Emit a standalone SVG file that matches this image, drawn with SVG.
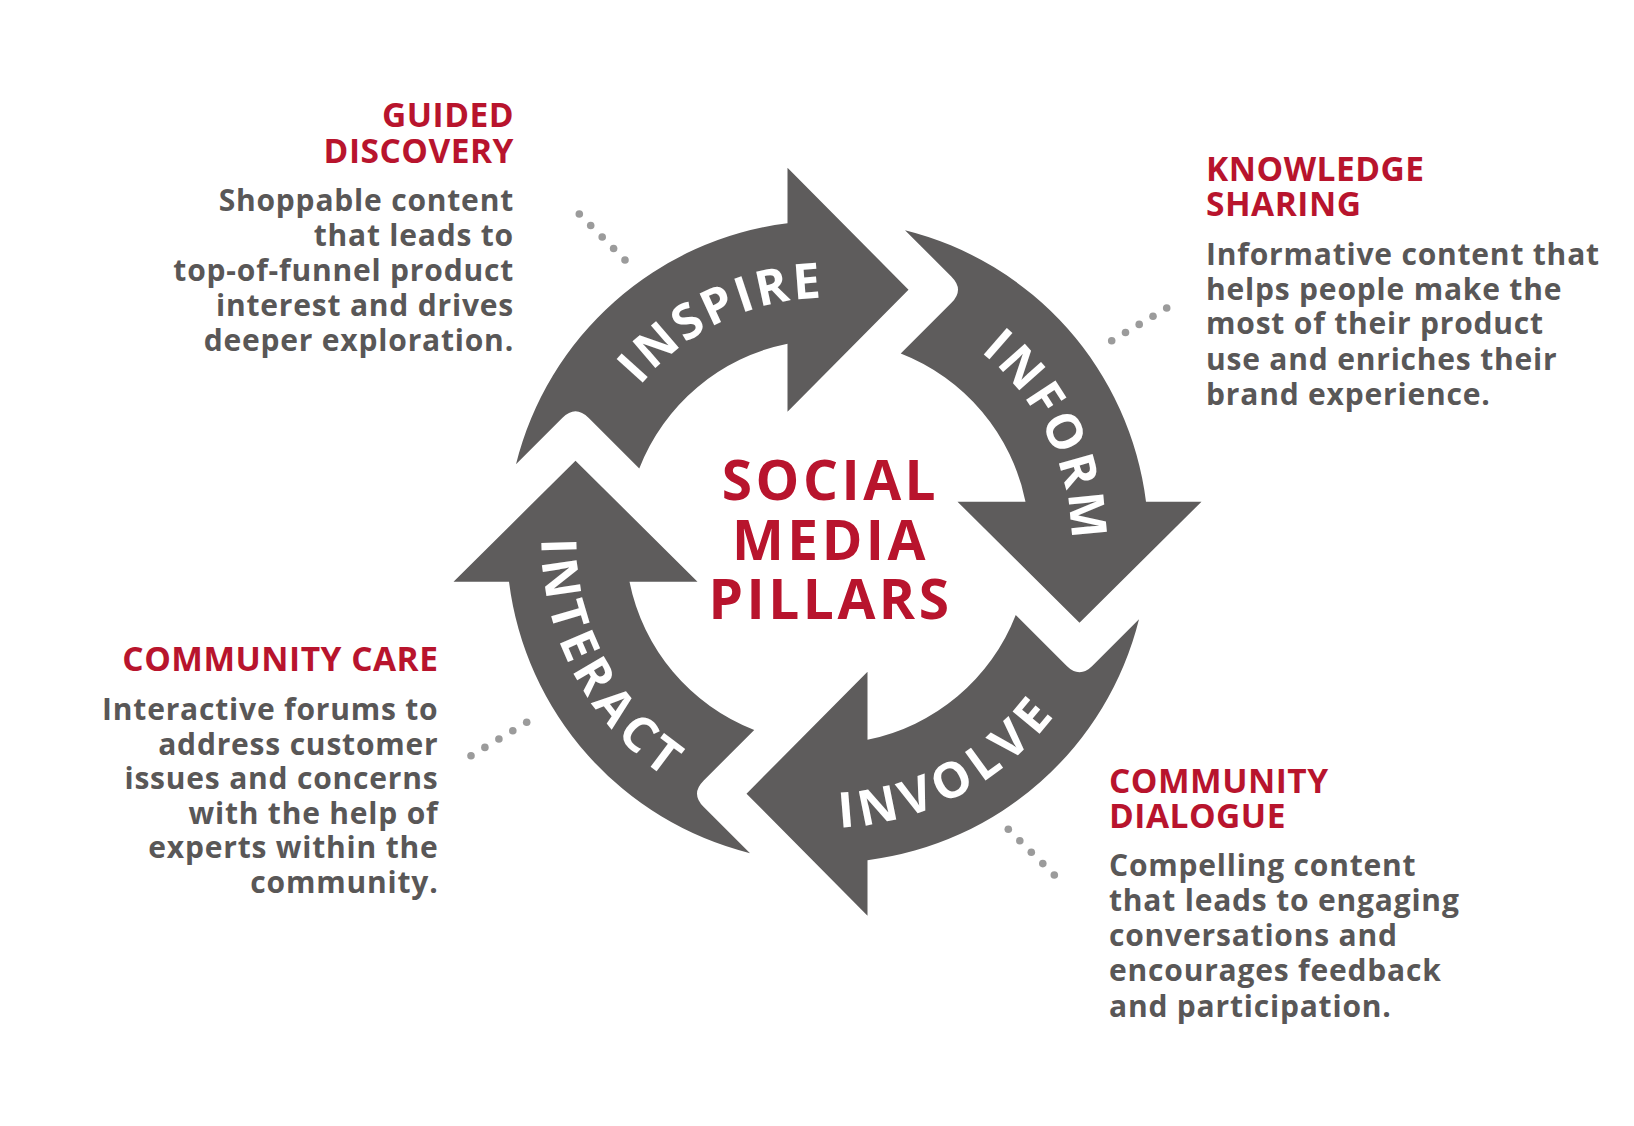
<svg xmlns="http://www.w3.org/2000/svg" xmlns:xlink="http://www.w3.org/1999/xlink" width="1634" height="1126" viewBox="0 0 1634 1126">
<style>
.arrow{fill:#5e5c5c}
.lbl{font-family:'Open Sans','Liberation Sans',sans-serif;font-weight:700;font-size:49px;fill:#ffffff;letter-spacing:3px}
.lblw{letter-spacing:6px}
.ttl{font-family:'Open Sans','Liberation Sans',sans-serif;font-weight:700;font-size:33.5px;fill:#b8142d;letter-spacing:0.5px}
.body{font-family:'Open Sans','Liberation Sans',sans-serif;font-weight:700;font-size:30px;fill:#595757;letter-spacing:0.8px}
.center{font-family:'Open Sans','Liberation Sans',sans-serif;font-weight:700;font-size:55px;fill:#b8142d;text-anchor:middle;letter-spacing:3.5px}
.dot{fill:#9b9b9b}
</style>
<defs>
<path id="arrowShape" d="M -311.5 -77.5 A 321 321 0 0 1 -40 -318.5 L -40 -374 L 81 -252 L -40 -130 L -40 -198 A 202 202 0 0 0 -188.25 -73.25 L -239 -124 Q -252 -137 -265 -124 Z"/>
<path id="arcCW" d="M -243.25 -19.14 A 244 244 0 0 1 138.2 -201.09"/>
<path id="arcCCW" d="M 151.56 -242.54 A 286 286 0 0 0 -285.83 -9.98"/>
</defs>
<rect width="1634" height="1126" fill="#ffffff"/>

<g id="connectors">
<circle class="dot" cx="579.3" cy="214" r="3.8"/><circle class="dot" cx="590.7" cy="225.5" r="3.8"/><circle class="dot" cx="602.2" cy="237" r="3.8"/><circle class="dot" cx="613.6" cy="248.5" r="3.8"/><circle class="dot" cx="625" cy="260" r="3.8"/>
<circle class="dot" cx="1111.7" cy="340.7" r="3.8"/><circle class="dot" cx="1125.5" cy="332.5" r="3.8"/><circle class="dot" cx="1139.2" cy="324.4" r="3.8"/><circle class="dot" cx="1153" cy="316.2" r="3.8"/><circle class="dot" cx="1166.7" cy="308" r="3.8"/>
<circle class="dot" cx="471" cy="755.7" r="3.8"/><circle class="dot" cx="484.9" cy="747.4" r="3.8"/><circle class="dot" cx="498.9" cy="739" r="3.8"/><circle class="dot" cx="512.8" cy="730.7" r="3.8"/><circle class="dot" cx="526.7" cy="722.3" r="3.8"/>
<circle class="dot" cx="1008.3" cy="829.3" r="3.8"/><circle class="dot" cx="1019.8" cy="840.7" r="3.8"/><circle class="dot" cx="1031.3" cy="852.2" r="3.8"/><circle class="dot" cx="1042.8" cy="863.6" r="3.8"/><circle class="dot" cx="1054.3" cy="875" r="3.8"/>
</g>

<g id="inspire" transform="translate(827.5 541.7)">
<use href="#arrowShape" class="arrow"/>
<text class="lbl"><textPath href="#arcCW" startOffset="50%" text-anchor="middle">INSPIRE</textPath></text>
</g>
<g id="inform" transform="translate(827.5 541.7) rotate(90)">
<use href="#arrowShape" class="arrow"/>
<text class="lbl"><textPath href="#arcCW" startOffset="50%" text-anchor="middle">INFORM</textPath></text>
</g>
<g id="involve" transform="translate(827.5 541.7) rotate(180)">
<use href="#arrowShape" class="arrow"/>
<text class="lbl lblw"><textPath href="#arcCCW" startOffset="50%" text-anchor="middle">INVOLVE</textPath></text>
</g>
<g id="interact" transform="translate(827.5 541.7) rotate(270)">
<use href="#arrowShape" class="arrow"/>
<text class="lbl lblw"><textPath href="#arcCCW" startOffset="50%" text-anchor="middle">INTERACT</textPath></text>
</g>

<g id="title">
<text class="center" x="830.5" y="500">SOCIAL</text>
<text class="center" x="830.5" y="560">MEDIA</text>
<text class="center" x="830.5" y="619">PILLARS</text>
</g>

<g id="guided-discovery" text-anchor="end">
<text class="ttl" x="514" y="126.5">GUIDED</text>
<text class="ttl" x="514" y="163">DISCOVERY</text>
<text class="body" x="514" y="210.5">Shoppable content</text>
<text class="body" x="514" y="245.5">that leads to</text>
<text class="body" x="514" y="280.5">top-of-funnel product</text>
<text class="body" x="514" y="315.5">interest and drives</text>
<text class="body" x="514" y="350.5">deeper exploration.</text>
</g>

<g id="knowledge-sharing">
<text class="ttl" x="1206" y="181">KNOWLEDGE</text>
<text class="ttl" x="1206" y="216">SHARING</text>
<text class="body" x="1206" y="265">Informative content that</text>
<text class="body" x="1206" y="299.5">helps people make the</text>
<text class="body" x="1206" y="334">most of their product</text>
<text class="body" x="1206" y="369.5">use and enriches their</text>
<text class="body" x="1206" y="405">brand experience.</text>
</g>

<g id="community-care" text-anchor="end">
<text class="ttl" x="438.5" y="670.7">COMMUNITY CARE</text>
<text class="body" x="438.5" y="719.5">Interactive forums to</text>
<text class="body" x="438.5" y="754.5">address customer</text>
<text class="body" x="438.5" y="789">issues and concerns</text>
<text class="body" x="438.5" y="823.5">with the help of</text>
<text class="body" x="438.5" y="858">experts within the</text>
<text class="body" x="438.5" y="892.7">community.</text>
</g>

<g id="community-dialogue">
<text class="ttl" x="1109" y="792.7">COMMUNITY</text>
<text class="ttl" x="1109" y="828.3">DIALOGUE</text>
<text class="body" x="1109" y="876">Compelling content</text>
<text class="body" x="1109" y="911">that leads to engaging</text>
<text class="body" x="1109" y="946">conversations and</text>
<text class="body" x="1109" y="981">encourages feedback</text>
<text class="body" x="1109" y="1016.5">and participation.</text>
</g>
</svg>
